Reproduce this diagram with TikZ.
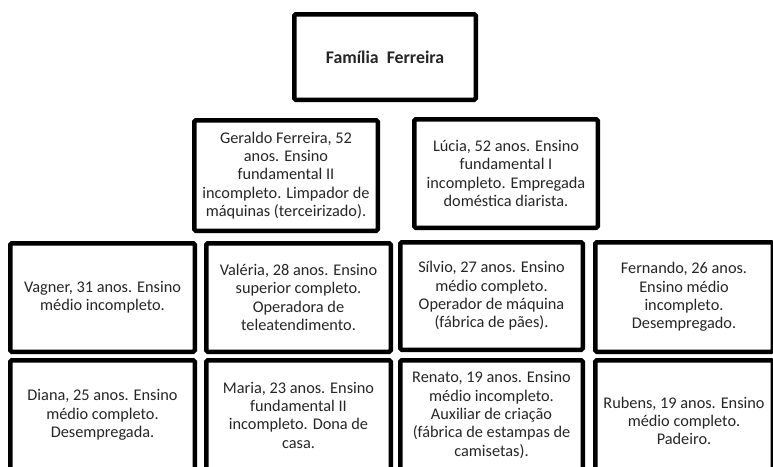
\documentclass[tikz,border=0pt]{standalone}
\usepackage{fontspec}
\setmainfont{Carlito}
\begin{document}
\begin{tikzpicture}[x=1pt,y=-1pt,
  box/.style={draw=black, line width=4.5pt, rounded corners=1.5pt, inner sep=0pt,
    align=center, text=black!85, font=\fontsize{16.3}{18.3}\selectfont, fill=white},
  titlebox/.style={box, font=\fontsize{17.8}{19}\selectfont\bfseries}]
\useasboundingbox (0,0) rectangle (773,466);
\clip (0,0) rectangle (773,466);
\fill[white] (0,0) rectangle (773,466);
\node[titlebox, minimum width=181.5pt, minimum height=85.5pt] (fam) at (385,57) {Família\ \ Ferreira};
\node[box, minimum width=183.5pt, minimum height=110.5pt] (ger) at (286,175.5)
  {Geraldo Ferreira, 52\\anos. Ensino\\fundamental II\\incompleto. Limpador de\\máquinas (terceirizado).};
\node[box, minimum width=183.5pt, minimum height=108.5pt] (luc) at (506,173.5)
  {Lúcia, 52 anos. Ensino\\fundamental I\\incompleto. Empregada\\doméstica diarista.};
\node[box, minimum width=184.5pt, minimum height=108.5pt] (vag) at (102.5,297.5)
  {Vagner, 31 anos. Ensino\\médio incompleto.};
\node[box, minimum width=184.5pt, minimum height=108.5pt] (val) at (298.5,297.5)
  {Valéria, 28 anos. Ensino\\superior completo.\\Operadora de\\teleatendimento.};
\node[box, minimum width=182.5pt, minimum height=107.5pt] (sil) at (491.5,296)
  {Sílvio, 27 anos. Ensino\\médio completo.\\Operador de máquina\\(fábrica de pães).};
\node[box, minimum width=177.5pt, minimum height=109.5pt] (fer) at (684,297)
  {Fernando, 26 anos.\\Ensino médio\\incompleto.\\Desempregado.};
\node[box, minimum width=184.5pt, minimum height=109.5pt] (dia) at (102.5,415)
  {Diana, 25 anos. Ensino\\médio completo.\\Desempregada.};
\node[box, minimum width=184.5pt, minimum height=109.5pt] (mar) at (298.5,415)
  {Maria, 23 anos. Ensino\\fundamental II\\incompleto. Dona de\\casa.};
\node[box, minimum width=182.5pt, minimum height=109.5pt] (ren) at (491.5,415)
  {Renato, 19 anos. Ensino\\médio incompleto.\\Auxiliar de criação\\(fábrica de estampas de\\camisetas).};
\node[box, minimum width=177.5pt, minimum height=121.5pt] (rub) at (684,421)
  {Rubens, 19 anos. Ensino\\médio completo.\\Padeiro.};
\end{tikzpicture}
\end{document}
